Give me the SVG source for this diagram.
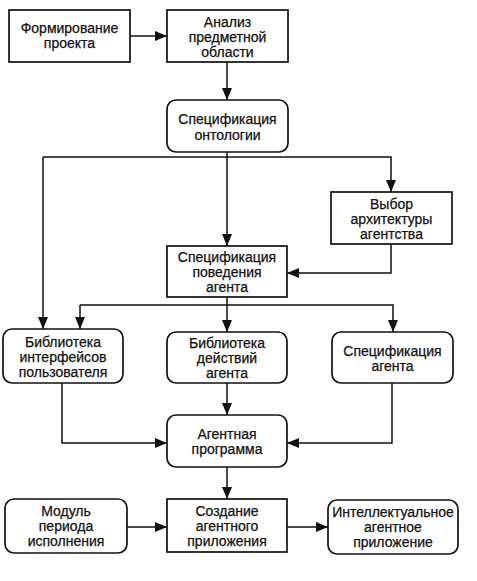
<svg xmlns="http://www.w3.org/2000/svg" width="477" height="581" viewBox="0 0 477 581">
<defs>
<marker id="ah" viewBox="0 0 12 10" refX="12" refY="5" markerWidth="12" markerHeight="10" markerUnits="userSpaceOnUse" orient="auto">
<path d="M0,0 L12,5 L0,10 Z" fill="#111"/>
</marker>
</defs>
<style>
.box{fill:#fff;stroke:#111;stroke-width:1.7}
.ln{fill:none;stroke:#111;stroke-width:1.5}
text{font-family:"Liberation Sans",Arial,sans-serif;font-size:14px;fill:#111;stroke:#111;stroke-width:0.25;text-anchor:middle}
</style>
<rect width="477" height="581" fill="#fff"/>
<g id="connectors">
<path class="ln" d="M130,36 H167" marker-end="url(#ah)"/>
<path class="ln" d="M227,62 V100" marker-end="url(#ah)"/>
<path class="ln" d="M227,152 V246" marker-end="url(#ah)"/>
<path class="ln" d="M43,157 H391 V192" marker-end="url(#ah)"/>
<path class="ln" d="M43,157 V329" marker-end="url(#ah)"/>
<path class="ln" d="M391,244 V273 H287" marker-end="url(#ah)"/>
<path class="ln" d="M227,297 V332" marker-end="url(#ah)"/>
<path class="ln" d="M80,305 H393 V332" marker-end="url(#ah)"/>
<path class="ln" d="M80,305 V329" marker-end="url(#ah)"/>
<path class="ln" d="M227,383 V415" marker-end="url(#ah)"/>
<path class="ln" d="M62,383 V443 H167" marker-end="url(#ah)"/>
<path class="ln" d="M392,383 V443 H287" marker-end="url(#ah)"/>
<path class="ln" d="M227,467 V499" marker-end="url(#ah)"/>
<path class="ln" d="M127,527 H167" marker-end="url(#ah)"/>
<path class="ln" d="M287,527 H328" marker-end="url(#ah)"/>
</g>
<g id="n1"><rect class="box" x="9" y="10" width="121" height="52"/><text x="69.5" y="33">Формирование</text><text x="69.5" y="48">проекта</text></g>
<g id="n2"><rect class="box" x="167" y="10" width="121" height="52"/><text x="227.5" y="27">Анализ</text><text x="227.5" y="42">предметной</text><text x="227.5" y="57">области</text></g>
<g id="n3"><rect class="box" x="167" y="100" width="121" height="52" rx="9"/><text x="227.5" y="124">Спецификация</text><text x="227.5" y="140">онтологии</text></g>
<g id="n4"><rect class="box" x="331" y="192" width="121" height="52"/><text x="391.5" y="209">Выбор</text><text x="391.5" y="224">архитектуры</text><text x="391.5" y="239">агентства</text></g>
<g id="n5"><rect class="box" x="167" y="246" width="120" height="51"/><text x="227" y="262">Спецификация</text><text x="227" y="277">поведения</text><text x="227" y="292">агента</text></g>
<g id="n6"><rect class="box" x="3" y="329" width="120" height="54" rx="9"/><text x="63" y="346.5">Библиотека</text><text x="63" y="361.5">интерфейсов</text><text x="63" y="376.5">пользователя</text></g>
<g id="n7"><rect class="box" x="167" y="332" width="120" height="51" rx="9"/><text x="227" y="348">Библиотека</text><text x="227" y="363">действий</text><text x="227" y="378">агента</text></g>
<g id="n8"><rect class="box" x="332" y="332" width="121" height="51" rx="9"/><text x="392.5" y="355.5">Спецификация</text><text x="392.5" y="370.5">агента</text></g>
<g id="n9"><rect class="box" x="167" y="415" width="120" height="52" rx="9"/><text x="227" y="438.5">Агентная</text><text x="227" y="453.5">программа</text></g>
<g id="n10"><rect class="box" x="5" y="499" width="122" height="54" rx="9"/><text x="66" y="516">Модуль</text><text x="66" y="531">периода</text><text x="66" y="546">исполнения</text></g>
<g id="n11"><rect class="box" x="167" y="499" width="120" height="53"/><text x="227" y="515.5">Создание</text><text x="227" y="530.5">агентного</text><text x="227" y="545.5">приложения</text></g>
<g id="n12"><rect class="box" x="328" y="500" width="130" height="54" rx="9"/><text x="393" y="517">Интеллектуальное</text><text x="393" y="532">агентное</text><text x="393" y="547">приложение</text></g>
</svg>
